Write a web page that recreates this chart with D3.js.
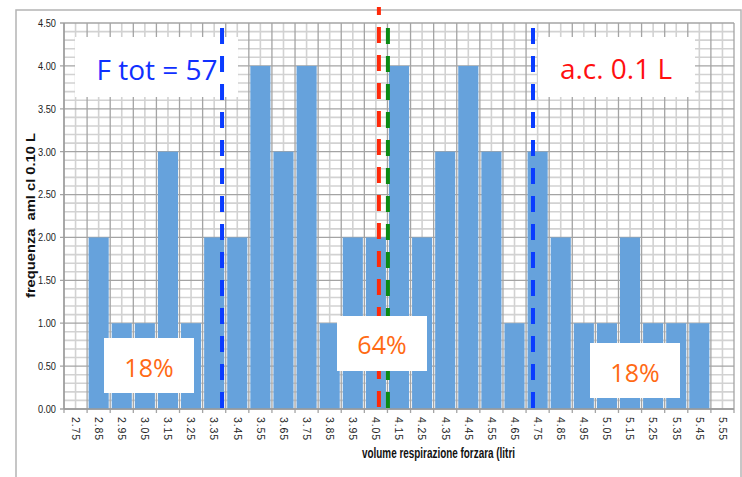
<!DOCTYPE html>
<html><head><meta charset="utf-8">
<script src="https://cdn.jsdelivr.net/npm/d3@7"></script>
<style>
html,body{margin:0;padding:0;background:#fff;}
svg{display:block;}
</style></head>
<body>
<svg id="chart" width="742" height="477"></svg>
<script>
// ---- data ----
const categories = ["2.75","2.85","2.95","3.05","3.15","3.25","3.35","3.45","3.55","3.65","3.75","3.85","3.95","4.05","4.15","4.25","4.35","4.45","4.55","4.65","4.75","4.85","4.95","5.05","5.15","5.25","5.35","5.45","5.55"];
const frequencies = [0,2,1,1,3,1,2,2,4,3,4,1,2,2,4,2,3,4,3,1,3,2,1,1,2,1,1,1,0];
const yTicks = [0,0.5,1,1.5,2,2.5,3,3.5,4,4.5];
const blueLines = [3.384, 4.730];
const redLine = 4.063;
const greenLine = 4.102;
const labelTotal = "F tot = 57";
const labelClass = "a.c. 0.1 L";
const pctLabels = ["18%","64%","18%"];
const xTitle = "volume respirazione forzara (litri";
const yTitle = "frequenza  aml cl 0.10 L";

const svg = d3.select("#chart");
const L = 64, R = 734, T = 23, B = 409;
const x = d3.scaleBand().domain(categories).range([L, R]).padding(0);
const bw = x.bandwidth();
const y = d3.scaleLinear().domain([0, 4.5]).range([B, T]);
// continuous value scale aligned on category centers
const xv = d3.scaleLinear()
  .domain([+categories[0], +categories[categories.length-1]])
  .range([x(categories[0]) + bw/2, x(categories[categories.length-1]) + bw/2]);

const sans = "'Liberation Sans',Arial,sans-serif";
const big = "'Open Sans','Noto Sans',sans-serif";

// outer frame
svg.append("rect").attr("x",16).attr("y",10).attr("width",725).attr("height",480)
  .attr("fill","none").attr("stroke","#b4b4b4").attr("stroke-width",1.5);

const grid = svg.append("g");
// minor horizontal gridlines
const minorY = d3.range(1,45).map(d=>d/10).filter(d=>Math.round(d*10)%5!==0);
grid.selectAll(".hmin").data(minorY).join("line")
  .attr("x1",L).attr("x2",R).attr("y1",d=>y(d)).attr("y2",d=>y(d))
  .attr("stroke","#d2d2d2").attr("stroke-width",1.6);
// minor vertical gridlines (band centres)
grid.selectAll(".vmin").data(categories).join("line")
  .attr("x1",d=>x(d)+bw/2).attr("x2",d=>x(d)+bw/2).attr("y1",T).attr("y2",B)
  .attr("stroke","#d2d2d2").attr("stroke-width",1.6);
// major horizontal gridlines
grid.selectAll(".hmaj").data(yTicks).join("line")
  .attr("x1",L-4).attr("x2",R).attr("y1",d=>y(d)).attr("y2",d=>y(d))
  .attr("stroke","#a4a4a4").attr("stroke-width",1.3);
// major vertical gridlines (band boundaries)
const bounds = categories.map(c=>x(c)).concat([R]);
grid.selectAll(".vmaj").data(bounds).join("line")
  .attr("x1",d=>d).attr("x2",d=>d).attr("y1",T).attr("y2",B+4)
  .attr("stroke","#a4a4a4").attr("stroke-width",1.3);

// bars
svg.append("g").selectAll("rect").data(categories.map((c,i)=>({c,v:frequencies[i]})).filter(d=>d.v>0))
  .join("rect")
  .attr("x",d=>x(d.c)+1.5).attr("width",bw-3)
  .attr("y",d=>y(d.v)).attr("height",d=>y(0)-y(d.v))
  .attr("fill","#66a2dc");

// axes lines
svg.append("line").attr("x1",L).attr("x2",L).attr("y1",T).attr("y2",B)
  .attr("stroke","#9a9a9a").attr("stroke-width",1.3);
svg.append("line").attr("x1",L).attr("x2",R).attr("y1",B).attr("y2",B)
  .attr("stroke","#9a9a9a").attr("stroke-width",1.3);

// y tick labels
svg.append("g").selectAll("text").data(yTicks).join("text")
  .attr("x",38).attr("y",d=>y(d)).attr("dy","0.35em")
  .attr("text-anchor","start").attr("font-family",sans).attr("font-size",11)
  .attr("textLength",18).attr("lengthAdjust","spacingAndGlyphs")
  .attr("fill","#222").text(d=>d.toFixed(2));

// x tick labels rotated
svg.append("g").selectAll("text").data(categories).join("text")
  .attr("transform",d=>`translate(${x(d)+bw/2},417) rotate(90)`)
  .attr("dy","0.35em").attr("text-anchor","start")
  .attr("font-family",sans).attr("font-size",10.5)
  .attr("letter-spacing",0.9).attr("fill","#222").text(d=>d);

// axis titles
svg.append("text").attr("x",362).attr("y",458).attr("text-anchor","start")
  .attr("font-family",sans).attr("font-size",15).attr("font-weight","bold").attr("fill","#111")
  .attr("textLength",153).attr("lengthAdjust","spacingAndGlyphs").text(xTitle);
svg.append("text").attr("transform","translate(35,298) rotate(-90)").attr("text-anchor","start")
  .attr("font-family",sans).attr("font-size",12.5).attr("font-weight","bold")
  .attr("style","white-space:pre")
  .attr("textLength",165).attr("lengthAdjust","spacingAndGlyphs")
  .attr("fill","#111").text(yTitle);

// red & green dashed lines (under the 64% box)
svg.append("line").attr("x1",xv(redLine)).attr("x2",xv(redLine)).attr("y1",7).attr("y2",B-1)
  .attr("stroke","#ff2a0a").attr("stroke-width",4).attr("stroke-dasharray","16,12").attr("stroke-dashoffset",8);
svg.append("line").attr("x1",xv(greenLine)).attr("x2",xv(greenLine)).attr("y1",28).attr("y2",B-1)
  .attr("stroke","#0c8a14").attr("stroke-width",4).attr("stroke-dasharray","16,12");

// annotation boxes
function box(x0,y0,w,h){
  svg.append("rect").attr("x",x0).attr("y",y0).attr("width",w).attr("height",h).attr("fill","#fff");
}
box(75,37,163,60);
box(538,37,157,60);
box(104,338,90,55);
box(337,316,90,55);
box(590,343,90,55);

svg.append("text").attr("x",157).attr("y",80).attr("text-anchor","middle")
  .attr("font-family",big).attr("font-size",28).attr("fill","#1030ff").text(labelTotal);
svg.append("text").attr("x",616).attr("y",79).attr("text-anchor","middle")
  .attr("font-family",big).attr("font-size",28).attr("fill","#ff1010").text(labelClass);
const pctPos = [[149,377],[382,354],[635,382]];
svg.append("g").selectAll("text").data(pctLabels).join("text")
  .attr("x",(d,i)=>pctPos[i][0]).attr("y",(d,i)=>pctPos[i][1]).attr("text-anchor","middle")
  .attr("font-family",big).attr("font-size",25).attr("fill","#ff6a14").text(d=>d);

// blue dashed lines (over boxes)
svg.append("g").selectAll("line").data(blueLines).join("line")
  .attr("x1",d=>xv(d)).attr("x2",d=>xv(d)).attr("y1",28).attr("y2",B-1)
  .attr("stroke","#0a3cff").attr("stroke-width",4).attr("stroke-dasharray","16,12");
</script>
</body></html>
